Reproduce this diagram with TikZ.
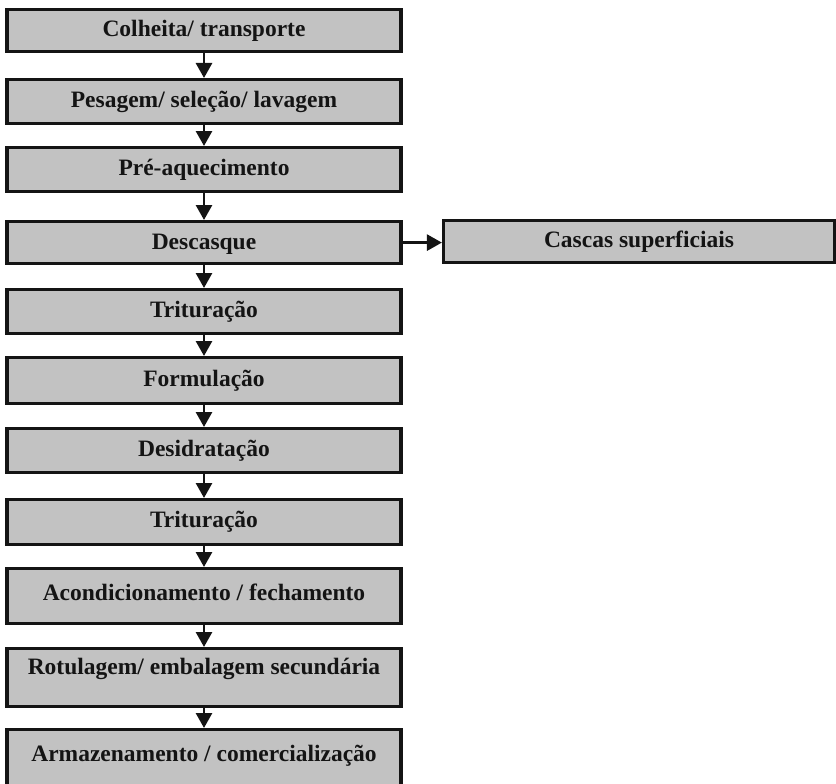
\documentclass[tikz,border=0pt]{standalone}
\usepackage{fontspec}
\setmainfont{Liberation Serif}
\usetikzlibrary{arrows.meta}
\definecolor{boxgray}{HTML}{C2C2C2}
\definecolor{ink}{HTML}{141414}
\newcommand{\up}[2]{\raisebox{#1}[\height][\depth]{#2}}
\begin{document}
\begin{tikzpicture}[x=1pt,y=-1pt,
  stepbox/.style={draw=ink, fill=boxgray, line width=3.2pt, minimum width=394pt,
    inner sep=0pt, text=ink, anchor=north, font=\fontsize{23.5}{26}\selectfont\bfseries},
  flow/.style={draw=ink, line width=2.8pt, -{Triangle[width=16pt,length=15pt]}}]
\useasboundingbox (0,0) rectangle (836,784);
\clip (0,0) rectangle (836,784);
\node[stepbox, minimum height=42pt] (b1) at (204,8) {Colheita/ transporte};
\node[stepbox, minimum height=44pt] (b2) at (204,78) {Pesagem/ seleção/ lavagem};
\node[stepbox, minimum height=44pt] (b3) at (204,146) {Pré-aquecimento};
\node[stepbox, minimum height=42pt] (b4) at (204,220) {\up{-2pt}{Descasque}};
\node[stepbox, minimum height=44pt] (b5) at (204,288) {Trituração};
\node[stepbox, minimum height=46pt] (b6) at (204,356) {Formulação};
\node[stepbox, minimum height=44pt] (b7) at (204,427) {Desidratação};
\node[stepbox, minimum height=45pt] (b8) at (204,498) {Trituração};
\node[stepbox, minimum height=55pt] (b9) at (204,567) {\up{4pt}{Acondicionamento / fechamento}};
\node[stepbox, minimum height=58pt] (b10) at (204,647) {\up{9pt}{Rotulagem/ embalagem secundária}};
\node[stepbox, minimum height=68pt] (b11) at (204,728) {\up{8pt}{Armazenamento / comercialização}};
\node[stepbox, minimum width=391pt, minimum height=42pt] (c1) at (639,219) {Cascas superficiais};
\draw[flow] (b1) -- (b2);
\draw[flow] (b2) -- (b3);
\draw[flow] (b3) -- (b4);
\draw[flow] (b4) -- (b5);
\draw[flow] (b5) -- (b6);
\draw[flow] (b6) -- (b7);
\draw[flow] (b7) -- (b8);
\draw[flow] (b8) -- (b9);
\draw[flow] (b9) -- (b10);
\draw[flow] (b10) -- (b11);
\draw[flow] (b4.east) -- (b4.east -| c1.west);
\end{tikzpicture}
\end{document}
